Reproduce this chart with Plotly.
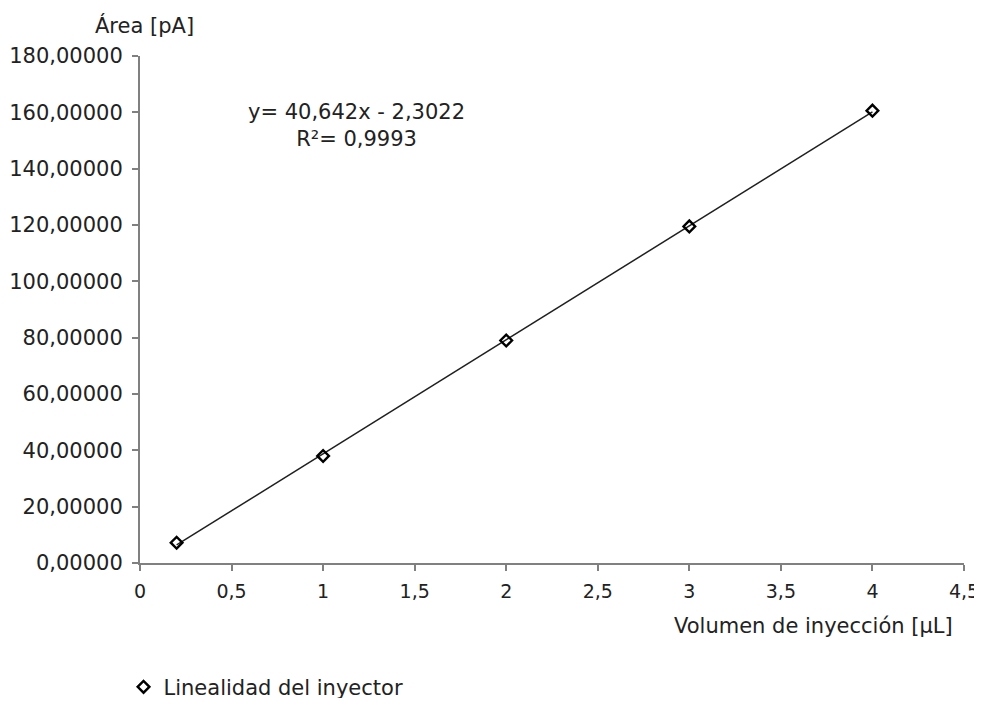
import numpy as np
import plotly.graph_objects as go

volumen = [0.2, 1.0, 2.0, 3.0, 4.0]
area = [7.2, 38.0, 79.0, 119.5, 160.6]
x_ticks = [0, 0.5, 1, 1.5, 2, 2.5, 3, 3.5, 4, 4.5]
x_tick_labels = ["0", "0,5", "1", "1,5", "2", "2,5", "3", "3,5", "4", "4,5"]
y_ticks = [0, 20, 40, 60, 80, 100, 120, 140, 160, 180]
y_tick_labels = ["%d,00000" % v for v in y_ticks]
series_name = "Linealidad del inyector"
eq_text = "y= 40,642x - 2,3022<br>R²= 0,9993"

slope, intercept = np.polyfit(volumen, area, 1)
tx = [min(volumen), max(volumen)]
ty = [slope * v + intercept for v in tx]

FONT = "DejaVu Sans"
FS = 21
TXT = "#222"
fig = go.Figure()
fig.add_trace(go.Scatter(x=tx, y=ty, mode="lines", showlegend=False,
                         line=dict(color="#202020", width=1.5), hoverinfo="skip"))
fig.add_trace(go.Scatter(x=volumen, y=area, mode="markers", name=series_name,
                         marker=dict(symbol="diamond-open", size=9, color="black",
                                     line=dict(width=2.4, color="black"))))

axis_common = dict(showgrid=False, zeroline=False, showline=True, linecolor="#808080",
                   linewidth=2, ticks="outside", ticklen=6, tickwidth=2, tickcolor="#808080",
                   ticklabeloverflow="allow")

fig.update_layout(
    width=974, height=690,
    margin=dict(l=132, r=18, t=48, b=135, autoexpand=False),
    paper_bgcolor="white", plot_bgcolor="white",
    font=dict(family=FONT, size=FS, color=TXT),
    showlegend=True,
    legend=dict(x=-0.02, y=-0.245, xanchor="left", yanchor="middle",
                font=dict(family=FONT, size=FS, color=TXT),
                bgcolor="rgba(0,0,0,0)"),
    xaxis=dict(range=[0, 4.5], tickvals=x_ticks, ticktext=x_tick_labels,
               ticklabelstandoff=4, tickfont=dict(family=FONT, size=19, color=TXT),
               **axis_common),
    yaxis=dict(range=[0, 180], tickvals=y_ticks, ticktext=y_tick_labels,
               ticklabelstandoff=5, tickfont=dict(family=FONT, size=FS, color=TXT),
               **axis_common),
    annotations=[
        dict(text="Área [pA]", xref="paper", yref="paper", x=0.006, y=1.0,
             xanchor="center", yanchor="middle", yshift=31, showarrow=False,
             font=dict(family=FONT, size=FS, color=TXT)),
        dict(text="Volumen de inyección [µL]", xref="paper", yref="paper", x=0.989, y=0,
             xanchor="right", yanchor="middle", yshift=-63, showarrow=False,
             font=dict(family=FONT, size=FS, color=TXT)),
        dict(text=eq_text, xref="paper", yref="paper", x=0.263, y=0.862,
             xanchor="center", yanchor="middle", showarrow=False, align="center",
             font=dict(family=FONT, size=FS, color=TXT)),
    ],
)

fig.write_html("out.html")
